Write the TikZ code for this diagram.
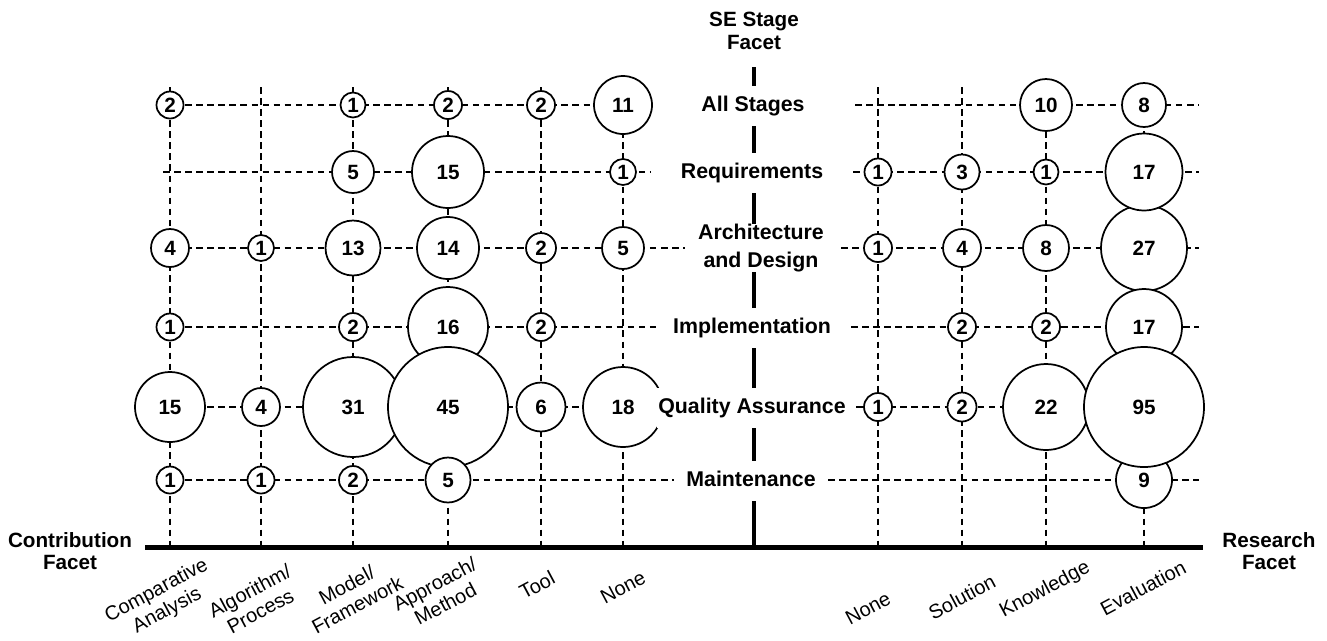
\documentclass[tikz,border=0pt]{standalone}
\usepackage{fontspec}
\setmainfont{Liberation Sans}

\tikzstyle{bubble}=[circle, draw, line width=1.3pt, fill=white, inner sep=0pt, font=\fontsize{15.5}{16}\selectfont\bfseries]
\tikzstyle{grid}=[line width=1.1pt, dash pattern=on 4.9pt off 3.4pt]
\tikzstyle{stagebase}=[fill=white, inner xsep=1pt, font=\fontsize{16}{21}\selectfont\bfseries]
\tikzstyle{stage}=[stagebase, inner ysep=7.5pt, text height=11.5pt, text depth=3.5pt]
\tikzstyle{facet}=[align=center, font=\fontsize{15.5}{17}\selectfont\bfseries]
\tikzstyle{kind}=[align=center, rotate=28, font=\fontsize{15}{17}\selectfont]

\begin{document}
\begin{tikzpicture}[x=0.75pt, y=-0.75pt]
  \useasboundingbox (0,0) rectangle (1327,640);
  % columns and rows of the grid
  \foreach \name/\x in {cmp/170, alg/261, mod/353, app/448, tool/541, nonl/623, nonr/878, sol/962, know/1046, eval/1144} {%
    \coordinate (\name) at (\x, 0);
    \draw[grid] (\x, 87) -- (\x, 545);
  }
  \foreach \name/\y/\le/\rs in {all/105/652/855, req/172/651/853, arch/248/685/841, impl/327/659/851, qa/407/660/856, mnt/480/674/828} {%
    \coordinate (\name) at (0, \y);
    \draw[grid] (163, \y) -- (\le, \y);
    \draw[grid] (\rs, \y) -- (1199, \y);
  }
  % axes
  \coordinate (axl) at (145, 547);
  \coordinate (axr) at (1203, 547);
  \coordinate (stop) at (754, 67);
  \coordinate (sbot) at (754, 545);
  \draw[line width=3.75pt] (axl) -- (axr);
  \draw[line width=3.4pt] (stop) -- (sbot);
  % bubbles: column/row/count/diameter
  \foreach \c/\r/\n/\d in {cmp/all/2/27, mod/all/1/25, app/all/2/28, tool/all/2/28, nonl/all/11/58, know/all/10/52, eval/all/8/44,
      mod/req/5/42, app/req/15/72, nonl/req/1/26, nonr/req/1/27, sol/req/3/35, know/req/1/25,
      cmp/arch/4/38, alg/arch/1/26, mod/arch/13/55, app/arch/14/62, tool/arch/2/30, nonl/arch/5/42,
      nonr/arch/1/28, sol/arch/4/38, know/arch/8/46, eval/arch/27/86, eval/req/17/77,
      cmp/impl/1/27, mod/impl/2/28, app/impl/16/80, tool/impl/2/28, sol/impl/2/28, know/impl/2/28, eval/impl/17/76,
      eval/mnt/9/56,
      cmp/qa/15/70, alg/qa/4/38, mod/qa/31/100, app/qa/45/120, tool/qa/6/49, nonl/qa/18/80,
      nonr/qa/1/28, sol/qa/2/29, know/qa/22/86, eval/qa/95/120,
      cmp/mnt/1/27, alg/mnt/1/27, mod/mnt/2/28, app/mnt/5/45} {%
    \node[bubble, minimum size=\d*0.75pt] (\r-\c) at (\c |- \r) {\n};
  }
  % stage labels
  \node[stage] (s-all) at (753, 106) {All Stages};
  \node[stage] (s-req) at (752, 173) {Requirements};
  \node[stagebase, inner ysep=0pt, align=center] (s-arch) at (761, 248) {Architecture\\and Design};
  \node[stage] (s-impl) at (752, 328) {Implementation};
  \node[stage] (s-qa) at (752, 408) {Quality Assurance};
  \node[stage] (s-mnt) at (751, 481) {Maintenance};
  % facets
  \node[facet] (f-stage) at (754, 31) {SE Stage\\Facet};
  \node[facet] (f-contrib) at (70, 551) {Contribution\\Facet};
  \node[facet] (f-research) at (1269, 551) {Research\\Facet};
  % column labels
  \foreach \c/\x/\y/\t in {cmp/162/601/{Comparative\\Analysis}, alg/255/601/{Algorithm/\\Process},
      mod/352/595/{Model/\\Framework}, app/440/594/{Approach/\\Method}, tool/537/585/{Tool},
      nonl/623/587/{None}, nonr/868/608/{None}, sol/962/597/{Solution},
      know/1045/590/{Knowledge}, eval/1143/588/{Evaluation}} {%
    \node[kind] (k-\c) at (\x, \y) {\t};
  }
\end{tikzpicture}
\end{document}
